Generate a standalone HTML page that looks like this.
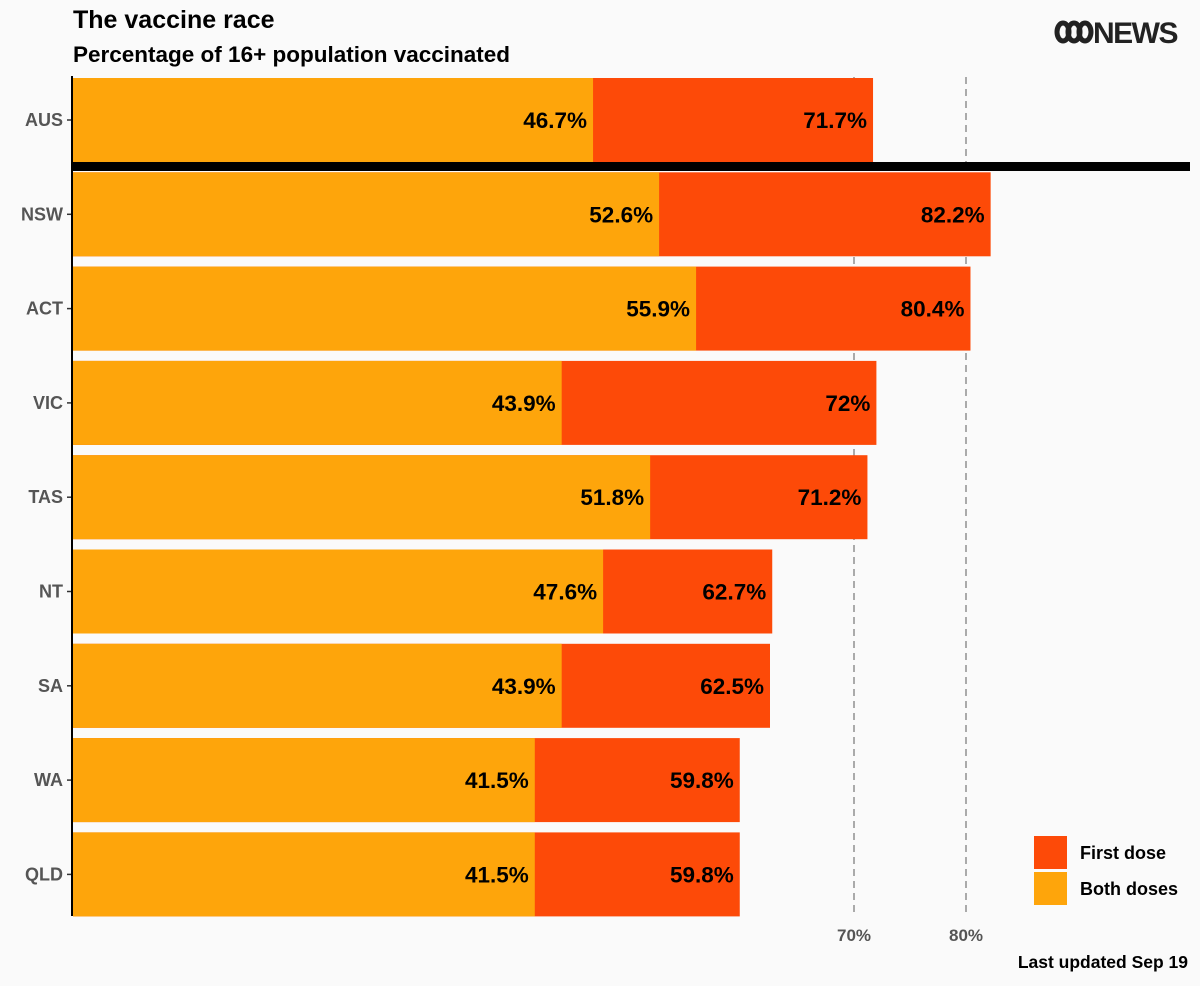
<!DOCTYPE html>
<html><head><meta charset="utf-8"><style>
body{margin:0;background:#fafafa;font-family:"Liberation Sans",sans-serif;}
svg text{font-family:"Liberation Sans",sans-serif;}
</style></head><body>
<svg width="1200" height="981" xmlns="http://www.w3.org/2000/svg">
<rect width="1200" height="981" fill="#fafafa"/>
<text x="73" y="28" font-size="25" font-weight="bold" fill="#000">The vaccine race</text>
<text x="73" y="62" font-size="22.5" font-weight="bold" fill="#000">Percentage of 16+ population vaccinated</text>
<g fill="none" stroke="#222" stroke-width="5">
<ellipse cx="1063" cy="32" rx="6" ry="9"/>
<ellipse cx="1074" cy="32" rx="6" ry="9"/>
<ellipse cx="1085" cy="32" rx="6" ry="9"/>
<text x="1093" y="43" font-size="30" font-weight="bold" fill="#222" stroke="none" letter-spacing="-1.5">NEWS</text>
</g>
<g id="grid"></g>
<g id="bars"></g>
<line x1="72" y1="76" x2="72" y2="916" stroke="#000" stroke-width="2"/>
<rect x="73" y="162" width="1117" height="9" fill="#000"/>
<g>
<rect x="1034" y="836" width="33" height="33" fill="#fd4a08"/>
<text x="1080" y="859" font-size="18" font-weight="bold">First dose</text>
<rect x="1034" y="872" width="33" height="33" fill="#fea50b"/>
<text x="1080" y="895" font-size="18" font-weight="bold">Both doses</text>
</g>
<text x="1188" y="968" font-size="17.5" font-weight="bold" text-anchor="end">Last updated Sep 19</text>
</svg>
<script>
const categories=["AUS","NSW","ACT","VIC","TAS","NT","SA","WA","QLD"];
const firstDose=[71.7,82.2,80.4,72,71.2,62.7,62.5,59.8,59.8];
const bothDoses=[46.7,52.6,55.9,43.9,51.8,47.6,43.9,41.5,41.5];
const refLines=[70,80];
const refLabels=["70%","80%"];
const NS="http://www.w3.org/2000/svg";
const x=v=>70+v*11.2;
const y=i=>78+i*94.3;
const bh=84;
const bars=document.getElementById('bars'),grid=document.getElementById('grid');
function mk(tag,attrs,parent){const e=document.createElementNS(NS,tag);for(const k in attrs)e.setAttribute(k,attrs[k]);parent.appendChild(e);return e;}
refLines.forEach((v,i)=>{
 const l=mk('line',{x1:x(v),x2:x(v),y1:77,y2:916,stroke:'#aaa','stroke-width':2,'stroke-dasharray':'7,5'},grid);
 
 
 const t=mk('text',{x:x(v),y:941,'font-size':17,'font-weight':'bold',fill:'#555','text-anchor':'middle'},grid);
 t.textContent=refLabels[i];
 
 
});
categories.forEach((c,i)=>{
 const yy=y(i);
 const r1=mk('rect',{x:73,y:yy,width:x(firstDose[i])-73,height:bh,fill:'#fd4a08'},bars);
 
 
 const r2=mk('rect',{x:73,y:yy,width:x(bothDoses[i])-73,height:bh,fill:'#fea50b'},bars);
 
 
 const t1=mk('text',{x:x(firstDose[i])-6,y:yy+bh/2+8,'font-size':22.5,'font-weight':'bold','text-anchor':'end'},bars);
 t1.textContent=firstDose[i]+'%';
 
 
 const t2=mk('text',{x:x(bothDoses[i])-6,y:yy+bh/2+8,'font-size':22.5,'font-weight':'bold','text-anchor':'end'},bars);
 t2.textContent=bothDoses[i]+'%';
 
 
 const tk=mk('line',{x1:67,x2:72,y1:yy+bh/2,y2:yy+bh/2,stroke:'#333','stroke-width':1.5},bars);
 
 
 const lb=mk('text',{x:63,y:yy+bh/2+6,'font-size':18,'font-weight':'bold',fill:'#555','text-anchor':'end'},bars);
 lb.textContent=c;
 
 
});
</script>
</body></html>
